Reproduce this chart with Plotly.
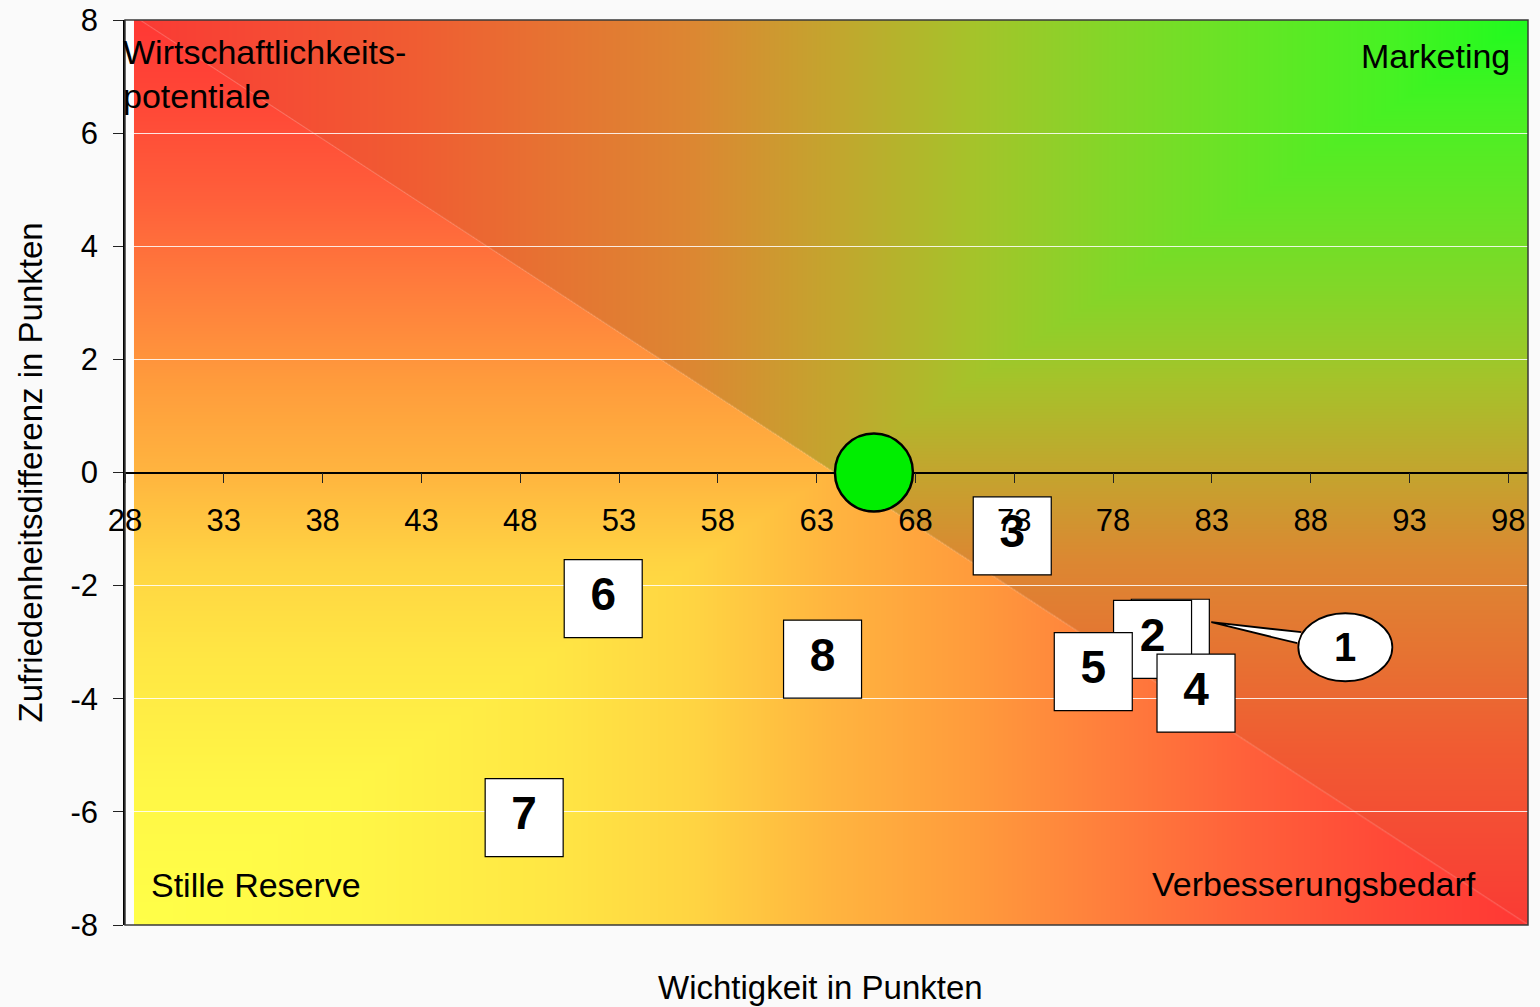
import base64
import struct
import zlib

import numpy as np
import plotly.graph_objects as go

# ---------------- data ----------------
labels = ["1", "2", "3", "4", "5", "6", "7", "8"]
wichtigkeit = [80.9, 80.0, 72.9, 82.2, 77.0, 52.2, 48.2, 63.3]
zufriedenheit = [-2.93, -2.95, -1.12, -3.90, -3.52, -2.23, -6.10, -3.30]
mittel_x = [65.9]
mittel_y = [0.0]
x_ticks = [28, 33, 38, 43, 48, 53, 58, 63, 68, 73, 78, 83, 88, 93, 98]
y_ticks = [-8, -6, -4, -2, 0, 2, 4, 6, 8]
y_ticktext = ["-8", "-6", "-4", "-2", "0", "2", "4", "6", "8"]
quadrant_texts = ["Wirtschaftlichkeits-<br>potentiale", "Marketing", "Stille Reserve", "Verbesserungsbedarf"]
x_title = "Wichtigkeit in Punkten"
y_title = "Zufriedenheitsdifferenz in Punkten"

FONT = "Arial, 'Liberation Sans', sans-serif"

# ---------------- background gradient (style) ----------------
W, H = 1398, 912
px = (np.arange(W) + 0.5) / W
py = (np.arange(H) + 0.5) / H
U, Vt = np.meshgrid(px, py)          # Vt: 0 at top
V = 1.0 - Vt                          # 0 at bottom
lower = (U + V) < 1.0
d_low = np.maximum(U, V)
d_up = np.maximum(1 - U, 1 - V)

low_stops = [0, 0.15, 0.3, 0.4, 0.5, 0.6, 0.7, 0.8, 0.9, 1.0]
low_cols = [(255, 255, 72), (255, 247, 70), (255, 230, 68), (255, 212, 66), (255, 180, 63),
            (255, 155, 60), (255, 125, 60), (255, 95, 58), (255, 72, 55), (255, 55, 52)]
up_stops = [0, 0.1, 0.2, 0.3, 0.4, 0.5, 0.6, 0.7, 0.8, 0.9, 1.0]
up_cols = [(30, 252, 30), (70, 242, 35), (100, 230, 37), (130, 215, 40), (165, 195, 42),
           (195, 165, 46), (220, 135, 50), (230, 115, 50), (240, 92, 50), (245, 75, 52), (250, 58, 52)]

img = np.zeros((H, W, 3), dtype=float)
for c in range(3):
    lo = np.interp(d_low, low_stops, [col[c] for col in low_cols])
    hi = np.interp(d_up, up_stops, [col[c] for col in up_cols])
    img[..., c] = np.where(lower, lo, hi)

# faint white diagonal
ii, jj = np.meshgrid(np.arange(W) + 0.5, np.arange(H) + 0.5)
dist = np.abs(ii * H - jj * W) / np.hypot(W, H)
alpha = 0.22 * np.clip(1 - dist, 0, 1)
img = img * (1 - alpha[..., None]) + 255 * alpha[..., None]
img = np.clip(img + 0.5, 0, 255).astype(np.uint8)

raw = b"".join(b"\x00" + img[r].tobytes() for r in range(H))


def chunk(tag, data):
    return struct.pack(">I", len(data)) + tag + data + struct.pack(">I", zlib.crc32(tag + data) & 0xffffffff)


png = b"\x89PNG\r\n\x1a\n" + chunk(b"IHDR", struct.pack(">IIBBBBB", W, H, 8, 2, 0, 0, 0)) \
    + chunk(b"IDAT", zlib.compress(raw, 9)) + chunk(b"IEND", b"")
png_uri = "data:image/png;base64," + base64.b64encode(png).decode()

# ---------------- figure ----------------
fig = go.Figure()

box_text = ["" if lab == "1" else lab for lab in labels]
fig.add_trace(go.Scatter(
    x=wichtigkeit, y=zufriedenheit, mode="markers+text", text=box_text,
    textposition="middle center",
    textfont=dict(family=FONT, size=46, color="black", weight="bold"),
    marker=dict(symbol="square", size=78, color="white", line=dict(color="black", width=1.2)),
    hoverinfo="skip", showlegend=False, cliponaxis=False,
))

fig.update_layout(
    width=1540, height=1007,
    margin=dict(l=125, r=12, t=20, b=82, autoexpand=False),
    paper_bgcolor="#fafafa", plot_bgcolor="#fdfdfd",
    showlegend=False,
    font=dict(family=FONT, color="black"),
    xaxis=dict(range=[28, 99], tickvals=x_ticks, ticks="outside", ticklen=10, tickwidth=1,
               tickcolor="#222", showline=True, linecolor="black", linewidth=1.5,
               anchor="free", position=0.5, showgrid=False, zeroline=False, automargin=False,
               tickfont=dict(size=31, family=FONT, color="black"), ticklabelstandoff=11,
               layer="above traces"),
    yaxis=dict(range=[-8, 8], tickvals=y_ticks, ticktext=y_ticktext, ticks="outside", ticklen=10,
               tickwidth=1, tickcolor="#222", showline=True, linecolor="black", linewidth=1.5,
               showgrid=True, gridcolor="rgba(255,255,255,0.85)", gridwidth=1, zeroline=False,
               automargin=False,
               tickfont=dict(size=31, family=FONT, color="black"), ticklabelstandoff=9),
    images=[dict(source=png_uri, xref="x", yref="y", x=28.455, y=8.07,
                 sizex=99.2 - 28.455, sizey=16.11, sizing="stretch",
                 xanchor="left", yanchor="top", layer="below")],
)

shapes = [
    # frame
    dict(type="rect", xref="paper", yref="paper", x0=0, x1=1, y0=0, y1=1,
         line=dict(color="#3a3a3a", width=1.5), fillcolor="rgba(0,0,0,0)", layer="above"),
    # mean point circle
    dict(type="circle", xref="x", yref="y", xsizemode="pixel", ysizemode="pixel",
         xanchor=mittel_x[0], yanchor=mittel_y[0], x0=-39, x1=39, y0=-39, y1=39,
         fillcolor="#00EE00", line=dict(color="black", width=2.5), layer="above"),
    # callout ellipse for label 1
    dict(type="circle", xref="x", yref="y", xsizemode="pixel", ysizemode="pixel",
         xanchor=wichtigkeit[0], yanchor=zufriedenheit[0], x0=128, x1=222, y0=-43, y1=25,
         fillcolor="white", line=dict(color="black", width=1.8), layer="above"),
    # callout pointer
    dict(type="path", xref="x", yref="y", xsizemode="pixel", ysizemode="pixel",
         xanchor=wichtigkeit[0], yanchor=zufriedenheit[0],
         path="M 131,6 L 41,16 L 127,-5",
         fillcolor="white", line=dict(color="black", width=1.8), layer="above"),
]
fig.update_layout(shapes=shapes)

annotations = [
    dict(x=wichtigkeit[0], y=zufriedenheit[0], xref="x", yref="y", xshift=175, yshift=-9,
         text=labels[0], showarrow=False, font=dict(size=40, family=FONT, color="black", weight="bold")),
    dict(x=-0.003, y=0.94, xref="paper", yref="paper", xanchor="left", yanchor="middle",
         text=quadrant_texts[0], showarrow=False, align="left", font=dict(size=34, family=FONT)),
    dict(x=0.9886, y=0.9602, xref="paper", yref="paper", xanchor="right", yanchor="middle",
         text=quadrant_texts[1], showarrow=False, font=dict(size=34, family=FONT)),
    dict(x=0.0171, y=0.0442, xref="paper", yref="paper", xanchor="left", yanchor="middle",
         text=quadrant_texts[2], showarrow=False, font=dict(size=34, family=FONT)),
    dict(x=0.9644, y=0.0453, xref="paper", yref="paper", xanchor="right", yanchor="middle",
         text=quadrant_texts[3], showarrow=False, font=dict(size=34, family=FONT)),
    dict(x=0.496, y=-0.0696, xref="paper", yref="paper", xanchor="center", yanchor="middle",
         text=x_title, showarrow=False, font=dict(size=33, family=FONT)),
    dict(x=-0.0677, y=0.5, xref="paper", yref="paper", xanchor="center", yanchor="middle",
         text=y_title, textangle=-90, showarrow=False, font=dict(size=33, family=FONT)),
]
fig.update_layout(annotations=annotations)

fig.write_html("out.html", config={"displayModeBar": False},
               post_script="document.body.style.margin='0';document.body.style.background='#fafafa';")
